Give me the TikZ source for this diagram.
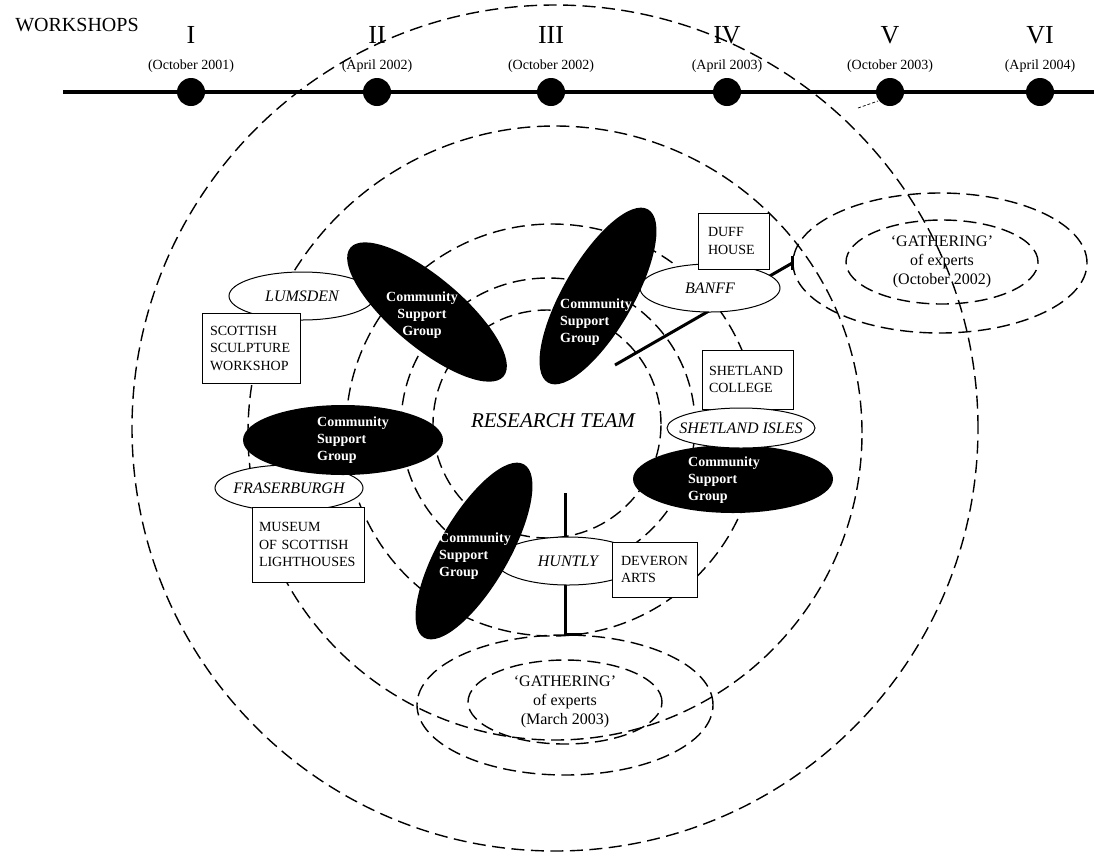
\documentclass[tikz,border=0pt]{standalone}
\usepackage{fontspec}
\setmainfont{Liberation Serif}
\usetikzlibrary{shapes.geometric}
\begin{document}
\begin{tikzpicture}[x=1pt,y=-1pt,
  ring/.style={draw, line width=1.4pt, dash pattern=on 13pt off 6.5pt},
  place/.style={ellipse, draw, fill=white, line width=1pt, inner sep=0pt, font=\fontsize{16}{18}\selectfont\itshape},
  org/.style={rectangle, draw, fill=white, line width=1pt, inner ysep=0pt, align=left, font=\fontsize{14}{17.5}\selectfont},
  csg/.style={ellipse, fill=black, inner sep=0pt, minimum width=200pt, minimum height=70pt},
  csgtext/.style={text=white, align=left, inner sep=0pt, font=\bfseries\fontsize{14}{17}\selectfont},
  gath/.style={ellipse, ring, inner sep=0pt},
  gtext/.style={align=center, font=\fontsize{16}{19}\selectfont},
  heavy/.style={line width=3pt},
  dot/.style={circle, fill=black, minimum size=28pt, inner sep=0pt},
  numeral/.style={font=\fontsize{26}{28}\selectfont, inner sep=0pt},
  datelbl/.style={font=\fontsize{14}{16}\selectfont, inner sep=0pt},
]
\useasboundingbox (0,0) rectangle (1094,855);
\fill[white] (0,0) rectangle (1094,855);

% concentric rings
\draw[ring] (547,424) circle[radius=114pt];
\draw[ring] (548,425) circle[radius=147pt];
\draw[ring] (552,430) circle[radius=206pt];
\draw[ring] (555,433) circle[radius=307pt];
\draw[ring] (555,428) circle[radius=423pt];

% gatherings
\node[gath, minimum width=296pt, minimum height=140pt] (g1out) at (565,705) {};
\node[gath, minimum width=194pt, minimum height=84pt, gtext] (g1in) at (565,702) {‘GATHERING’\\of experts\\(March 2003)};
\node[gath, minimum width=294pt, minimum height=140pt] (g2out) at (940,263) {};
\node[gath, minimum width=192pt, minimum height=84pt, gtext] (g2in) at (942,262) {‘GATHERING’\\of experts\\(October 2002)};

% heavy links
\coordinate (hl) at (565,493);
\draw[heavy] (hl) -- (g1out.north) -- ++(17,0);
\coordinate (bl) at (615,365);
\draw[heavy] (bl) -- (g2out.west);
\draw[heavy] ([yshift=7pt]g2out.west) -- ([yshift=-7pt]g2out.west);

% timeline
\coordinate (ts) at (63,92);
\coordinate (te) at (1094,92);
\draw[line width=3.5pt] (ts) -- (te);
\coordinate (sd1) at (858,108);
\coordinate (sd2) at (878,101);
\draw[line width=0.7pt, dash pattern=on 3pt off 2pt] (sd1) -- (sd2);
\node[font=\fontsize{20}{22}\selectfont, inner sep=0pt] (ws) at (77,25) {WORKSHOPS};
\foreach \x/\n/\d [count=\i] in {191/I/October 2001, 377/II/April 2002, 551/III/October 2002, 727/IV/April 2003, 890/V/October 2003, 1040/VI/April 2004}{
  \node[dot] (d\i) at (\x,92) {};
  \node[numeral] (n\i) at (\x,35) {\n};
  \node[datelbl] (dt\i) at (\x,66) {(\d)};
}

% place names
\node[place, minimum width=146pt, minimum height=48pt] (lum) at (302,296) {\makebox[0pt]{LUMSDEN}};
\node[place, minimum width=140pt, minimum height=48pt] (banff) at (710,288) {\makebox[0pt]{BANFF}};
\node[place, minimum width=148pt, minimum height=46pt] (fras) at (289,488) {\makebox[0pt]{FRASERBURGH}};
\node[place, minimum width=144pt, minimum height=48pt] (hunt) at (568,561) {\makebox[0pt]{HUNTLY}};

% organisations
\node[org, text width=82pt, inner xsep=8pt, minimum height=70pt] (ssw) at (251,348) {SCOTTISH\\SCULPTURE\\WORKSHOP};
\node[org, text width=51pt, inner xsep=10pt, minimum height=56pt] (duff) at (733.5,241) {DUFF\\HOUSE};
\node[org, text width=77pt, inner xsep=7pt, minimum height=59pt] (shc) at (747.5,379.5) {SHETLAND\\COLLEGE};
\node[org, text width=98pt, inner xsep=7pt, minimum height=75pt] (msl) at (308,544.5) {MUSEUM\\OF SCOTTISH\\LIGHTHOUSES};
\node[org, text width=67pt, inner xsep=9pt, minimum height=55pt] (dev) at (654.5,569.5) {DEVERON\\ARTS};

% community support groups
\node[csg, rotate=-40] (c1) at (427,312) {};
\node[csg, rotate=60] (c2) at (598,296) {};
\node[csg] (c3) at (343,440) {};
\node[csg, rotate=60] (c4) at (474,551) {};
\node[csg, minimum height=68pt] (c5) at (733,479) {};
\node[place, minimum width=148pt, minimum height=40pt] (shi) at (741,428) {\makebox[0pt]{SHETLAND ISLES}};

\node[csgtext, align=center] (t1) at (422,315) {Community\\Support\\Group};
\node[csgtext, anchor=west] (t2) at (560,322) {Community\\Support\\Group};
\node[csgtext, anchor=west] (t3) at (317,440) {Community\\Support\\Group};
\node[csgtext, anchor=west] (t4) at (439,556) {Community\\Support\\Group};
\node[csgtext, anchor=west] (t5) at (688,480) {Community\\Support\\Group};

\node[font=\fontsize{21}{24}\selectfont\itshape, inner sep=0pt] (rt) at (553,421) {RESEARCH TEAM};
\end{tikzpicture}
\end{document}
